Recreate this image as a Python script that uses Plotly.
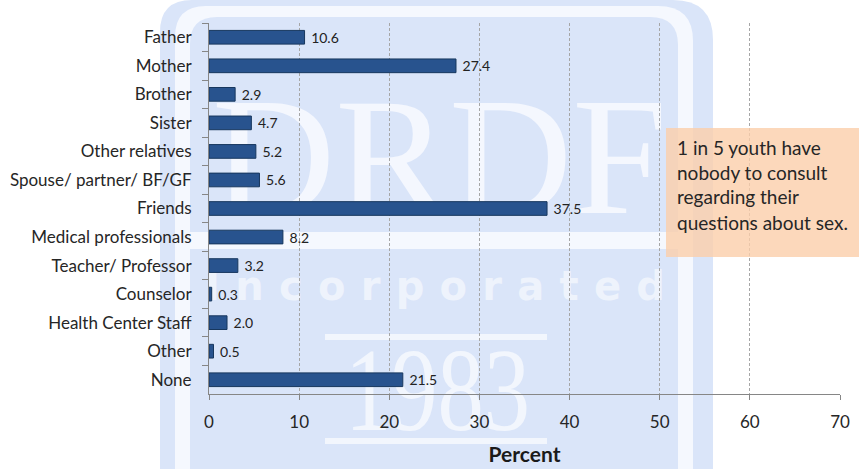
import urllib.parse
import plotly.graph_objects as go

categories = ["Father", "Mother", "Brother", "Sister", "Other relatives",
              "Spouse/ partner/ BF/GF", "Friends", "Medical professionals",
              "Teacher/ Professor", "Counselor", "Health Center Staff", "Other", "None"]
values = [10.6, 27.4, 2.9, 4.7, 5.2, 5.6, 37.5, 8.2, 3.2, 0.3, 2.0, 0.5, 21.5]
x_ticks = [0, 10, 20, 30, 40, 50, 60, 70]
note_lines = ["1 in 5 youth have", "nobody to consult", "regarding their", "questions about sex."]

W, H = 861, 469
ML, MR, MT, MB = 209, 21, 23, 75
PW, PH = W - ML - MR, H - MT - MB

def px(xp):
    return (xp - ML) / PW

def py(yp):
    return (H - MB - yp) / PH

FONT = "Lato"

# decorative watermark logo (background image, drawn behind the plot)
svg = (
    "<svg xmlns='http://www.w3.org/2000/svg' width='861' height='469' viewBox='0 0 861 469'>"
    "<path d='M160,469 V32 Q160,0 192,0 H673 Q713,0 713,40 V469 Z' fill='#DAE5F9'/>"
    "<path d='M175,469 V37 Q175,6 206,6 H658 Q693,6 693,41 V469 Z' fill='#F5F8FE'/>"
    "<path d='M190,469 V44 Q190,17 217,17 H650 Q678,17 678,45 V469 Z' fill='#DAE5F9'/>"
    "<rect x='190' y='232' width='488' height='17' fill='#F5F8FE'/>"
    "<text x='212' y='213' textLength='455' lengthAdjust='spacingAndGlyphs' "
    "font-family='Liberation Serif' font-size='168' fill='#F4F7FE'>DRDF</text>"
    "<text x='205' y='300' textLength='460' lengthAdjust='spacing' "
    "font-family='DejaVu Sans' font-weight='bold' font-size='40' fill='#EEF3FC'>Incorporated</text>"
    "<rect x='325' y='334' width='222' height='6' fill='#F2F6FD'/>"
    "<rect x='325' y='438' width='222' height='6' fill='#F2F6FD'/>"
    "<text x='345' y='430' textLength='185' lengthAdjust='spacingAndGlyphs' "
    "font-family='Liberation Serif' font-size='118' fill='#F2F6FD'>1983</text>"
    "</svg>"
)
logo_src = "data:image/svg+xml;charset=utf-8," + urllib.parse.quote(svg)

fig = go.Figure()
fig.add_trace(go.Bar(
    y=categories, x=values, orientation="h",
    marker=dict(color="#28538E", line=dict(color="#17375E", width=1)),
    width=0.48,
    text=["\u00a0" + f"{v:.1f}" for v in values],
    textposition="outside", cliponaxis=False, constraintext="none",
    textfont=dict(family=FONT, size=14, color="#222222"),
    hoverinfo="x+y",
))

shapes = [dict(type="rect", xref="paper", yref="paper", layer="above",
               x0=px(666), x1=px(859), y0=py(257), y1=py(128),
               fillcolor="rgba(251,206,170,0.8)", line=dict(width=0))]

annotations = []
for i, line in enumerate(note_lines):
    annotations.append(dict(text=line, xref="paper", yref="paper",
                            x=px(675), y=py(147 + i * 25), xanchor="left", yanchor="middle",
                            showarrow=False, font=dict(family=FONT, size=19, color="#262626")))

fig.update_layout(
    width=W, height=H,
    margin=dict(l=ML, r=MR, t=MT, b=MB, autoexpand=False),
    paper_bgcolor="white", plot_bgcolor="rgba(0,0,0,0)",
    showlegend=False,
    shapes=shapes, annotations=annotations,
    images=[dict(source=logo_src, xref="paper", yref="paper",
                 x=px(0), y=py(0), sizex=W / PW, sizey=H / PH,
                 xanchor="left", yanchor="top", sizing="stretch", layer="below")],
    font=dict(family=FONT, color="#262626"),
)
fig.update_xaxes(
    range=[0, 70], tickvals=x_ticks,
    showgrid=True, gridcolor="#A6A6A6", gridwidth=1, griddash="3px,2px",
    showline=True, linecolor="#868686", linewidth=1,
    ticks="outside", ticklen=5, tickcolor="#868686",
    tickfont=dict(family=FONT, size=17, color="#262626"),
    ticklabelstandoff=8,
    zeroline=False,
    title=dict(text="<b>Percent</b>", font=dict(family=FONT, size=21, color="#1a1a1a"), standoff=15),
)
fig.update_yaxes(
    autorange="reversed", showgrid=False,
    showline=True, linecolor="#868686", linewidth=1,
    ticks="outside", ticklen=6, tickcolor="#868686", tickson="boundaries",
    tickfont=dict(family=FONT, size=17, color="#262626"),
    ticklabelstandoff=13,
)

fig.write_html("out.html", config={"displayModeBar": False},
               post_script="document.body.style.margin='0';document.body.style.overflow='hidden';")
